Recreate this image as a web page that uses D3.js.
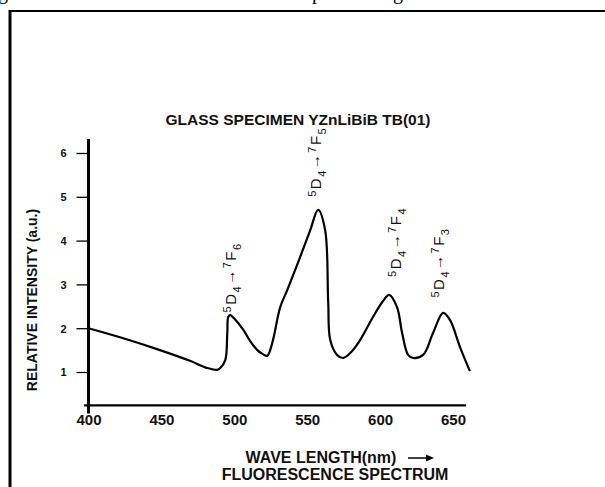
<!DOCTYPE html>
<html>
<head>
<meta charset="utf-8">
<script src="https://cdn.jsdelivr.net/npm/d3@7"></script>
<style>
  body { margin: 0; background: #fff; }
  svg { display: block; }
  .lbl { font-family: "Liberation Sans", Arial, sans-serif; font-weight: bold; fill: #111; }
  .peak { font-family: "Liberation Sans", Arial, sans-serif; fill: #111; }
</style>
</head>
<body>
<svg id="chart" width="605" height="487"></svg>
<script>
// spectrum trace: wavelength (nm) / relative intensity
var wavelengths = [400, 425, 449, 470, 481.5, 488.4, 490.4, 493.8, 495.2, 495.9, 497.3, 500, 506.2, 511, 515.8, 519, 522.6, 526, 531.5, 536.3, 545.2, 552.1, 557.5, 562.3, 564.4, 565.8, 570.5, 574.7, 580, 586.3, 595.2, 602, 606.2, 611.6, 615.1, 619.2, 622.6, 629.5, 636.3, 643.2, 647.9, 654.8, 661.6];
var intensity   = [2.0, 1.76, 1.50, 1.25, 1.09, 1.05, 1.09, 1.27, 1.89, 2.26, 2.30, 2.22, 1.96, 1.70, 1.50, 1.42, 1.37, 1.66, 2.48, 2.87, 3.63, 4.24, 4.70, 4.24, 2.60, 1.73, 1.39, 1.32, 1.45, 1.73, 2.26, 2.62, 2.76, 2.48, 1.89, 1.39, 1.32, 1.39, 1.89, 2.35, 2.19, 1.57, 1.02];

var xTicks = [400, 450, 500, 550, 600, 650];
var yTicks = [1, 2, 3, 4, 5, 6];

// transition labels: 5D4 -> 7Fj, anchored at a wavelength / intensity
var peakJ     = ["6", "5", "4", "3"];
var peakNm    = [501, 559.5, 614, 644];
var peakLevel = [2.36, 5.0, 3.17, 2.7];

var svg = d3.select("#chart");

var x = d3.scaleLinear().domain([400, 650]).range([88.5, 453]);
var y = d3.scaleLinear().domain([1, 6]).range([372, 153]);

// page frame + cut off caption line above
svg.append("line").attr("x1", 9).attr("x2", 605).attr("y1", 11).attr("y2", 11)
  .attr("stroke", "#000").attr("stroke-width", 2);
svg.append("line").attr("x1", 10).attr("x2", 10).attr("y1", 10).attr("y2", 487)
  .attr("stroke", "#000").attr("stroke-width", 3);
[["g", -2], ["p", 312], ["g", 393]].forEach(function(c) {
  svg.append("text").attr("x", c[1]).attr("y", -1)
    .style("font-family", "Liberation Serif, serif").style("font-size", "20px")
    .text(c[0]);
});

// axes
svg.append("line").attr("x1", x(400)).attr("x2", x(400))
  .attr("y1", y(6.32)).attr("y2", y(0.05))
  .attr("stroke", "#000").attr("stroke-width", 3);
svg.append("line").attr("x1", x(397)).attr("x2", x(659))
  .attr("y1", y(0.24)).attr("y2", y(0.24))
  .attr("stroke", "#000").attr("stroke-width", 2.2);

var yAxis = svg.append("g")
  .attr("transform", "translate(" + x(400) + ",0)")
  .call(d3.axisLeft(y).tickValues(yTicks).tickSize(12).tickPadding(10).tickFormat(d3.format("d")));
yAxis.select(".domain").remove();
yAxis.selectAll("line").attr("stroke", "#000").attr("stroke-width", 1.3);
yAxis.selectAll("text").attr("class", "lbl").style("font-size", "11px").attr("dy", "0.36em");

var xAxis = svg.append("g")
  .attr("transform", "translate(0," + y(0.24) + ")")
  .call(d3.axisBottom(x).tickValues(xTicks).tickSize(0).tickPadding(9).tickFormat(d3.format("d")));
xAxis.select(".domain").remove();
xAxis.selectAll("text").attr("class", "lbl").style("font-size", "15px");

// curve
var line = d3.line()
  .x(function(d, i) { return x(wavelengths[i]); })
  .y(function(d) { return y(d); })
  .curve(d3.curveCatmullRom.alpha(0.5));
svg.append("path").datum(intensity)
  .attr("d", line)
  .attr("fill", "none").attr("stroke", "#000").attr("stroke-width", 2.2)
  .attr("stroke-linejoin", "round");

// titles
svg.append("text").attr("class", "lbl").attr("x", 298).attr("y", 125)
  .attr("text-anchor", "middle").style("font-size", "15.5px")
  .text("GLASS SPECIMEN YZnLiBiB TB(01)");

svg.append("text").attr("class", "lbl")
  .attr("transform", "translate(37,300) rotate(-90)")
  .attr("text-anchor", "middle").style("font-size", "14px")
  .text("RELATIVE INTENSITY (a.u.)");

svg.append("text").attr("class", "lbl").attr("x", 321).attr("y", 463)
  .attr("text-anchor", "middle").style("font-size", "16px")
  .text("WAVE LENGTH(nm)");
svg.append("line").attr("x1", 408).attr("x2", 428).attr("y1", 458).attr("y2", 458)
  .attr("stroke", "#000").attr("stroke-width", 1.5);
svg.append("path").attr("d", "M426,454.5L434,458L426,461.5Z").attr("fill", "#000");

svg.append("text").attr("class", "lbl").attr("x", 335).attr("y", 480)
  .attr("text-anchor", "middle").style("font-size", "16px")
  .text("FLUORESCENCE SPECTRUM");

// peak labels
peakJ.forEach(function(j, i) {
  var t = svg.append("text").attr("class", "peak")
    .attr("transform", "translate(" + x(peakNm[i]) + "," + y(peakLevel[i]) + ") rotate(-90)")
    .style("font-size", "15px").style("letter-spacing", "1.5px");
  t.append("tspan").style("font-size", "11px").attr("dy", -5).text("5");
  t.append("tspan").attr("dy", 5).text("D");
  t.append("tspan").style("font-size", "11px").attr("dy", 5).text("4");
  t.append("tspan").attr("dy", -6).text("\u2192");
  t.append("tspan").style("font-size", "11px").attr("dy", -4).text("7");
  t.append("tspan").attr("dy", 5).text("F");
  t.append("tspan").style("font-size", "11px").attr("dy", 5).text(j);
});
</script>
</body>
</html>
